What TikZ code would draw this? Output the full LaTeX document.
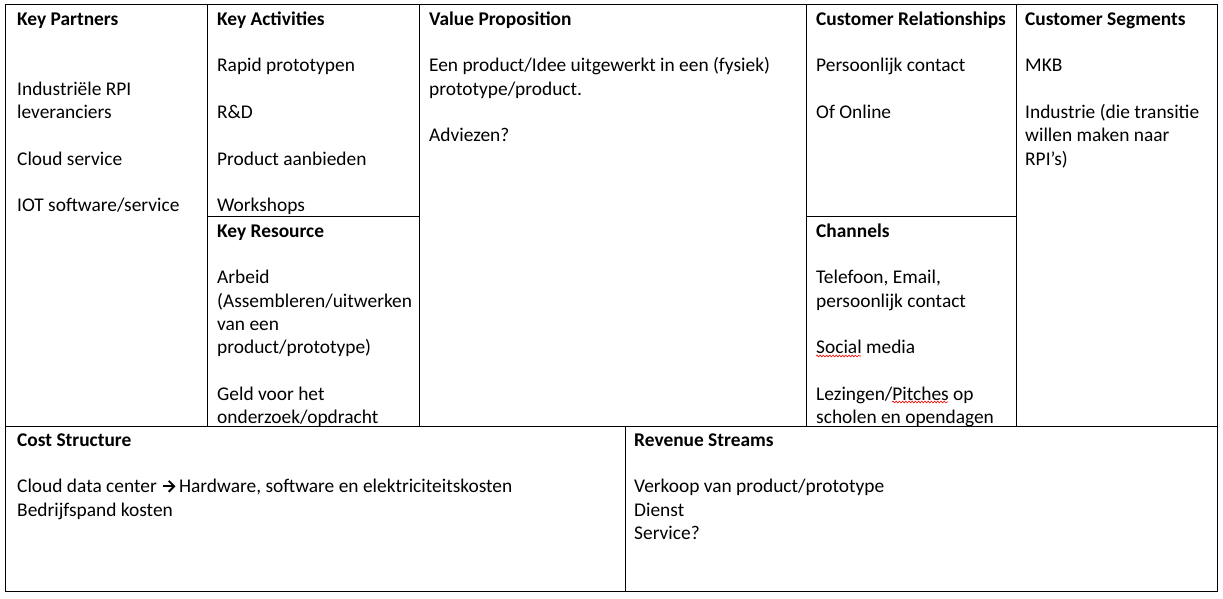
\documentclass[tikz,border=0pt]{standalone}
\usepackage{fontspec}
\setmainfont{Carlito}
\usetikzlibrary{decorations.pathmorphing}
% thick chevron arrow used inline in running text
\newcommand{\chevarrow}{\tikz[baseline=0pt,x=1pt,y=1pt]{%
  \useasboundingbox (0,0) rectangle (12,12);
  \draw[line width=1.8pt,miter limit=10] (0.5,6.5) -- (11.5,6.5);
  \draw[line width=1.8pt,miter limit=10] (6,12) -- (11.5,6.5) -- (6,1);}}
\begin{document}
\begin{tikzpicture}[x=1pt,y=-1pt,
  grid/.style={line width=1pt,black},
  celltext/.style={anchor=north west,inner sep=0pt,align=left,
    font=\fontsize{19.4}{23.3}\selectfont},
  spell/.style={red,line width=0.6pt,decorate,
    decoration={snake,amplitude=0.9pt,segment length=3.2pt}}]
\useasboundingbox (0,0) rectangle (1223,599);

% canvas grid
\draw[grid] (5,5) rectangle (1217,591);
\draw[grid] (5,426) -- (1217,426);
\draw[grid] (207,5) -- (207,426);
\draw[grid] (419,5) -- (419,426);
\draw[grid] (806,5) -- (806,426);
\draw[grid] (1016,5) -- (1016,426);
\draw[grid] (207,216) -- (419,216);
\draw[grid] (806,216) -- (1016,216);
\draw[grid] (625,426) -- (625,591);

% building blocks (first baseline = top + 0.7*23.3)
\node[celltext] (kp) at (17,8.7) {\strut\textbf{Key Partners}\\[46.6pt]
  Industriële RPI\\ leveranciers\\[23.3pt] Cloud service\\[23.3pt]
  IOT software/service};
\node[celltext] (ka) at (217,8.7) {\strut\textbf{Key Activities}\\[23.3pt]
  Rapid prototypen\\[23.3pt] R\&D\\[23.3pt] Product aanbieden\\[23.3pt]
  Workshops};
\node[celltext] (kr) at (217,220.7) {\strut\textbf{Key Resource}\\[23.3pt]
  Arbeid\\ (Assembleren/uitwerken\\ van een\\ product/prototype)\\[23.3pt]
  Geld voor het\\ onderzoek/opdracht};
\node[celltext] (vp) at (429,8.7) {\strut\textbf{Value Proposition}\\[23.3pt]
  Een product/Idee uitgewerkt in een (fysiek)\\ prototype/product.\\[23.3pt]
  Adviezen?};
\node[celltext] (cr) at (816,8.7) {\strut\textbf{Customer Relationships}\\[23.3pt]
  Persoonlijk contact\\[23.3pt] Of Online};
\node[celltext] (ch) at (816,220.7) {\strut\textbf{Channels}\\[23.3pt]
  Telefoon, Email,\\ persoonlijk contact\\[23.3pt] Social media\\[23.3pt]
  Lezingen/Pitches op\\ scholen en opendagen};
\node[celltext] (cs) at (1025,8.7) {\strut\textbf{Customer Segments}\\[23.3pt]
  MKB\\[23.3pt] Industrie (die transitie\\ willen maken naar\\ RPI’s)};
\node[celltext] (co) at (17,429.7) {\strut\textbf{Cost Structure}\\[23.3pt]
  Cloud data center\hspace{1.5pt} \chevarrow{} Hardware, software en elektriciteitskosten\\
  Bedrijfspand kosten};
\node[celltext] (rs) at (634,429.7) {\strut\textbf{Revenue Streams}\\[23.3pt]
  Verkoop van product/prototype\\ Dienst\\ Service?};

% spelling marks
\draw[spell] (816,356) -- (861,356);
\draw[spell] (892,402) -- (948,402);
\end{tikzpicture}
\end{document}
